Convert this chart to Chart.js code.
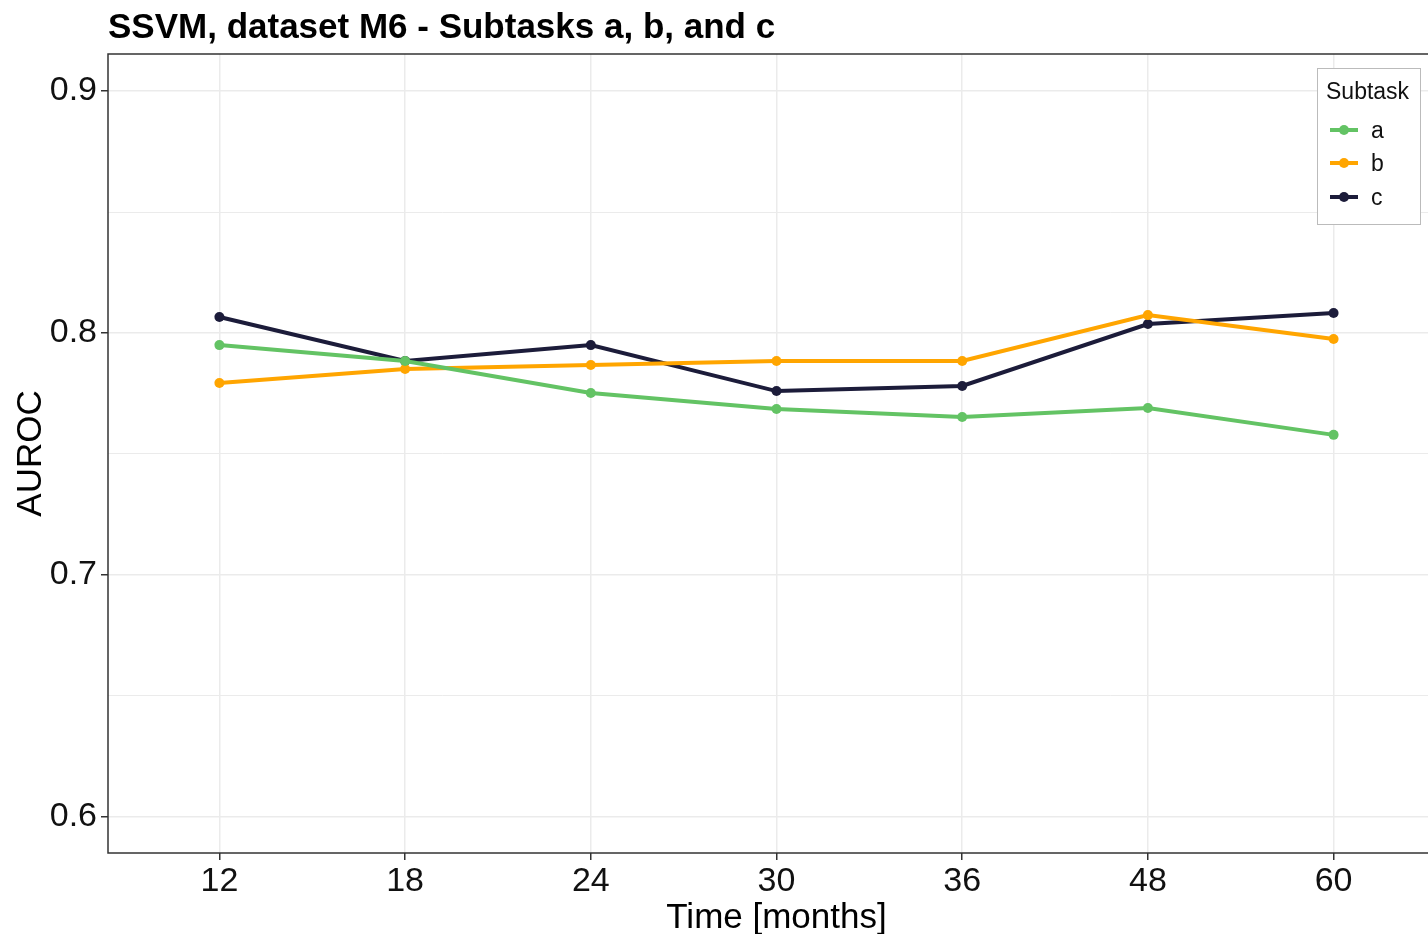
<!DOCTYPE html>
<html lang="en">
<head>
    <meta charset="UTF-8">
    <title>SSVM, dataset M6 - Subtasks a, b, and c</title>
    <style>
        html, body {
            margin: 0;
            padding: 0;
            background: white;
            overflow: hidden;
        }

        #wrap {
            width: 1450px;
            height: 934px;
        }
    </style>
    <script src="https://cdn.jsdelivr.net/npm/chart.js"></script>
</head>
<body>

    <div id="wrap">
        <canvas id="aurocChart" width="1450" height="934"></canvas>
    </div>

    <script>
        const months = ['12', '18', '24', '30', '36', '48', '60'];
        const subtaskA = [0.795, 0.7884, 0.7752, 0.7686, 0.7653, 0.769, 0.7579];
        const subtaskB = [0.7793, 0.7851, 0.7868, 0.7884, 0.7884, 0.8074, 0.7975];
        const subtaskC = [0.8066, 0.7884, 0.795, 0.776, 0.7781, 0.8037, 0.8083];
        const yTickLabels = ['0.6', '0.7', '0.8', '0.9'];

        const FONT = "'Liberation Sans', Arial, sans-serif";

        function toPoints(values) {
            return values.map((v, i) => ({ x: i, y: v }));
        }

        function isMajor(v) {
            return Math.abs(v * 10 - Math.round(v * 10)) < 1e-6 && yTickLabels.includes(v.toFixed(1));
        }

        // panel border, title and the legend box (ggplot style)
        const decorations = {
            id: 'decorations',
            afterDraw(chart) {
                const ctx = chart.ctx;
                const a = chart.chartArea;
                ctx.save();
                ctx.strokeStyle = '#333333';
                ctx.lineWidth = 1.5;
                ctx.strokeRect(a.left, a.top, a.right - a.left, a.bottom - a.top);

                ctx.fillStyle = '#000';
                ctx.font = 'bold 35px ' + FONT;
                ctx.textBaseline = 'alphabetic';
                ctx.textAlign = 'left';
                ctx.fillText('SSVM, dataset M6 - Subtasks a, b, and c', a.left, 38);

                // legend
                ctx.fillStyle = 'white';
                ctx.fillRect(1317, 68, 103, 156);
                ctx.strokeStyle = '#bbbbbb';
                ctx.lineWidth = 1;
                ctx.strokeRect(1317.5, 68.5, 103, 156);
                ctx.fillStyle = '#111';
                ctx.font = '23px ' + FONT;
                ctx.textBaseline = 'middle';
                ctx.fillText('Subtask', 1326, 93);
                const ys = [130, 163, 197];
                chart.data.datasets.forEach((ds, i) => {
                    ctx.strokeStyle = ds.borderColor;
                    ctx.lineWidth = 4;
                    ctx.beginPath();
                    ctx.moveTo(1330, ys[i]);
                    ctx.lineTo(1358, ys[i]);
                    ctx.stroke();
                    ctx.fillStyle = ds.borderColor;
                    ctx.beginPath();
                    ctx.arc(1344, ys[i], 5, 0, Math.PI * 2);
                    ctx.fill();
                    ctx.fillStyle = '#111';
                    ctx.fillText(ds.label, 1371, ys[i] + 2);
                });
                ctx.restore();
            }
        };

        new Chart(document.getElementById('aurocChart'), {
            type: 'line',
            data: {
                datasets: [
                    { label: 'a', data: toPoints(subtaskA), borderColor: '#63c364', backgroundColor: '#63c364' },
                    { label: 'b', data: toPoints(subtaskB), borderColor: '#ffa500', backgroundColor: '#ffa500' },
                    { label: 'c', data: toPoints(subtaskC), borderColor: '#1c1c3a', backgroundColor: '#1c1c3a' }
                ]
            },
            options: {
                responsive: false,
                animation: false,
                layout: { padding: { top: 54, right: 2, left: 0, bottom: 0 } },
                elements: {
                    line: { borderWidth: 4, tension: 0 },
                    point: { radius: 5, borderWidth: 0, pointStyle: 'circle' }
                },
                plugins: {
                    legend: { display: false },
                    title: { display: false },
                    tooltip: { enabled: false }
                },
                scales: {
                    x: {
                        type: 'linear',
                        min: -0.6,
                        max: 6.6,
                        afterBuildTicks(scale) {
                            scale.ticks = months.map((_, i) => ({ value: i }));
                        },
                        afterFit(scale) {
                            scale.height = 81;
                        },
                        ticks: {
                            color: '#111',
                            font: { family: FONT, size: 34 },
                            padding: 1,
                            maxRotation: 0,
                            callback: (v) => months[v]
                        },
                        grid: {
                            color: '#ebebeb',
                            lineWidth: 1.5,
                            tickLength: 7,
                            tickColor: '#333333'
                        },
                        border: { display: false },
                        title: {
                            display: true,
                            text: 'Time [months]',
                            color: '#000',
                            font: { family: FONT, size: 35 },
                            padding: { top: 0, bottom: -5 }
                        }
                    },
                    y: {
                        min: 0.5851,
                        max: 0.9153,
                        afterBuildTicks(scale) {
                            const t = [];
                            for (let k = 12; k <= 18; k++) t.push({ value: k * 0.05 });
                            scale.ticks = t;
                        },
                        afterFit(scale) {
                            scale.width = 108;
                        },
                        ticks: {
                            color: '#111',
                            font: { family: FONT, size: 34 },
                            padding: 4,
                            callback: (v) => isMajor(v) ? v.toFixed(1) : ''
                        },
                        grid: {
                            color: '#ebebeb',
                            lineWidth: (c) => c.tick && isMajor(c.tick.value) ? 1.5 : 1,
                            tickLength: 7,
                            tickColor: (c) => c.tick && isMajor(c.tick.value) ? '#333333' : 'rgba(0,0,0,0)'
                        },
                        border: { display: false },
                        title: {
                            display: true,
                            text: 'AUROC',
                            color: '#000',
                            font: { family: FONT, size: 35 },
                            padding: { top: 10, bottom: 0 }
                        }
                    }
                }
            },
            plugins: [decorations]
        });
    </script>

</body>
</html>
